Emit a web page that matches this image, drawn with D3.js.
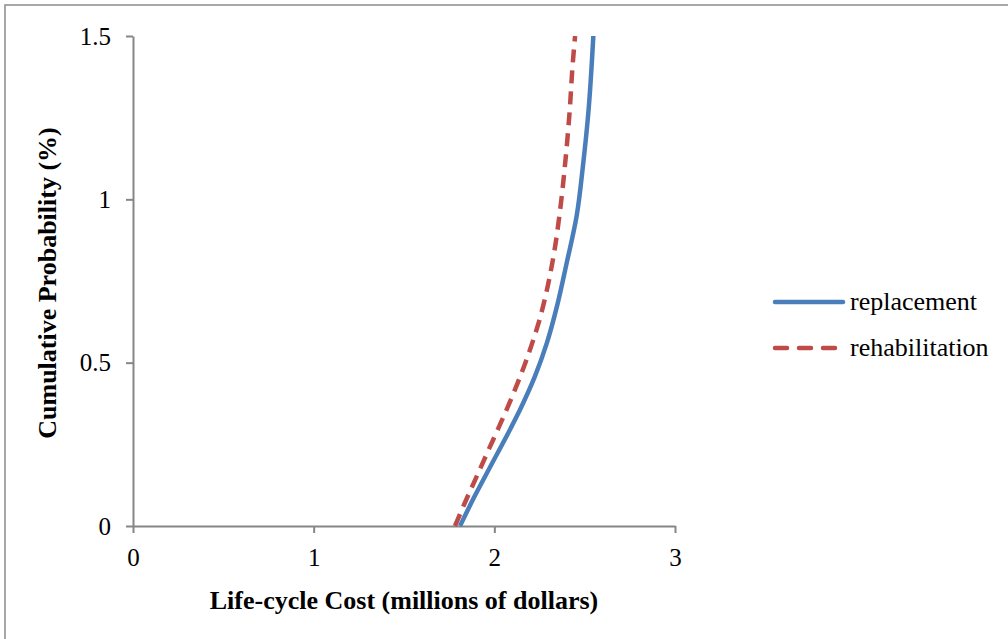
<!DOCTYPE html>
<html><head><meta charset="utf-8">
<script src="https://cdn.jsdelivr.net/npm/d3@7"></script>
<style>body{margin:0;background:#fff}svg{display:block}text{font-family:"Liberation Serif","Times New Roman",serif}</style>
</head><body>
<svg id="c" width="1008" height="639"></svg>
<script>
const replacementX = [1.81,1.89,1.978,2.066,2.15,2.224,2.29,2.35,2.40,2.455,2.492,2.52,2.548];
const replacementY = [0,0.09,0.182,0.273,0.365,0.457,0.559,0.68,0.804,0.947,1.11,1.263,1.5];
const rehabX = [1.782,1.848,1.91,1.968,2.022,2.071,2.132,2.174,2.218,2.252,2.273,2.327,2.364,2.392,2.416,2.434,2.447];
const rehabY = [0,0.085,0.161,0.233,0.299,0.36,0.442,0.503,0.574,0.635,0.68,0.824,0.967,1.11,1.263,1.416,1.5];
const xTicks = [0,1,2,3];
const yTicks = [0,0.5,1,1.5];
const seriesNames = ["replacement","rehabilitation"];

const svg = d3.select("#c");
svg.append("rect").attr("x",5).attr("y",5).attr("width",1010).attr("height",640)
  .attr("fill","none").attr("stroke","#8c8c8c").attr("stroke-width",1.5);

const x = d3.scaleLinear().domain([0,3]).range([133,675]);
const y = d3.scaleLinear().domain([0,1.5]).range([526,36]);

const gx = svg.append("g").attr("transform","translate(0,526)")
  .call(d3.axisBottom(x).tickValues(xTicks).tickFormat(d3.format("")).tickSize(7).tickSizeOuter(0));
const gy = svg.append("g").attr("transform","translate(133,0)")
  .call(d3.axisLeft(y).tickValues(yTicks).tickFormat(d3.format("")).tickSize(7).tickSizeOuter(0));
[gx,gy].forEach(g=>{
  g.attr("font-size",null).attr("font-family",null);
  g.select(".domain").attr("stroke","#868686").attr("stroke-width",2);
  g.selectAll(".tick line").attr("stroke","#868686").attr("stroke-width",2);
  g.selectAll(".tick text").style("font-size","25px").attr("fill","#000")
    .style("font-family","'Liberation Serif','Times New Roman',serif");
});
gx.selectAll(".tick text").attr("dy","0.71em").attr("y",22);
gy.selectAll(".tick text").attr("x",-22);

svg.append("clipPath").attr("id","pc").append("rect")
  .attr("x",120).attr("y",36).attr("width",600).attr("height",491);

const line = d3.line().x(d=>x(d[0])).y(d=>y(d[1])).curve(d3.curveMonotoneY);
const rep = replacementX.map((v,i)=>[v,replacementY[i]]);
const reh = rehabX.map((v,i)=>[v,rehabY[i]]);
const plot = svg.append("g").attr("clip-path","url(#pc)");
plot.append("path").datum(rep).attr("d",line).attr("fill","none")
  .attr("stroke","#4a7ebb").attr("stroke-width",4.5);
plot.append("path").datum(reh).attr("d",line).attr("fill","none")
  .attr("stroke","#be4b48").attr("stroke-width",4.5).attr("stroke-dasharray","13,8");

svg.append("text").attr("x",404).attr("y",609).attr("text-anchor","middle")
  .style("font-size","26px").attr("font-weight","bold").text("Life-cycle Cost (millions of dollars)");
svg.append("text").attr("transform","translate(56,283) rotate(-90)").attr("text-anchor","middle")
  .style("font-size","26px").attr("font-weight","bold").text("Cumulative Probability (%)");

const leg = svg.append("g");
const ly = [302,348];
seriesNames.forEach((n,i)=>{
  leg.append("line").attr("x1",775).attr("x2",843).attr("y1",ly[i]).attr("y2",ly[i])
    .attr("stroke", i===0?"#4a7ebb":"#be4b48").attr("stroke-width",4.5)
    .attr("stroke-linecap","round")
    .attr("stroke-dasharray", i===0?null:"12,12");
  leg.append("text").attr("x",850).attr("y",ly[i]+8).style("font-size","26px").text(n);
});
</script>
</body></html>
